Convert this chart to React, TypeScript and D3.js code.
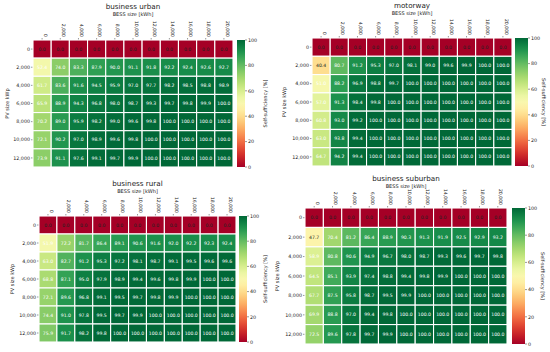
import React from 'react';
import * as d3 from 'd3';

// PV sizes (rows) and BESS sizes (columns)
const pvSizes = [0, 2000, 4000, 6000, 8000, 10000, 12000];
const bessSizes = [0, 2000, 4000, 6000, 8000, 10000, 12000, 14000, 16000, 18000, 20000];
const cbarTicks = [0, 20, 40, 60, 80, 100];

const urban = [
  [0, 0, 0, 0, 0, 0, 0, 0, 0, 0, 0],
  [52.4, 74.0, 83.3, 87.9, 90.0, 91.1, 91.8, 92.2, 92.4, 92.6, 92.7],
  [61.7, 83.6, 91.6, 94.5, 95.9, 97.0, 97.7, 98.2, 98.5, 98.8, 98.9],
  [65.9, 88.9, 94.3, 96.8, 98.0, 98.7, 99.3, 99.7, 99.8, 99.9, 100.0],
  [70.2, 89.0, 95.9, 98.2, 99.0, 99.6, 99.8, 100.0, 100.0, 100.0, 100.0],
  [72.1, 90.2, 97.0, 98.9, 99.6, 99.8, 100.0, 100.0, 100.0, 100.0, 100.0],
  [73.9, 91.1, 97.6, 99.1, 99.7, 99.9, 100.0, 100.0, 100.0, 100.0, 100.0],
];

const motorway = [
  [0, 0, 0, 0, 0, 0, 0, 0, 0, 0, 0],
  [40.4, 80.7, 91.2, 95.3, 97.0, 98.1, 99.0, 99.6, 99.9, 100.0, 100.0],
  [51.0, 88.2, 96.9, 98.8, 99.7, 100.0, 100.0, 100.0, 100.0, 100.0, 100.0],
  [57.0, 91.3, 98.4, 99.8, 100.0, 100.0, 100.0, 100.0, 100.0, 100.0, 100.0],
  [60.8, 93.0, 99.2, 100.0, 100.0, 100.0, 100.0, 100.0, 100.0, 100.0, 100.0],
  [63.0, 93.8, 99.4, 100.0, 100.0, 100.0, 100.0, 100.0, 100.0, 100.0, 100.0],
  [64.7, 94.2, 99.4, 100.0, 100.0, 100.0, 100.0, 100.0, 100.0, 100.0, 100.0],
];

const rural = [
  [0, 0, 0, 0, 0, 0, 0, 0, 0, 0, 0],
  [51.9, 72.2, 81.7, 86.4, 89.1, 90.6, 91.6, 92.0, 92.2, 92.3, 92.4],
  [63.0, 82.7, 91.2, 95.3, 97.2, 98.1, 98.7, 99.1, 99.5, 99.6, 99.6],
  [68.8, 87.1, 95.0, 97.9, 98.9, 99.4, 99.6, 99.8, 99.9, 100.0, 100.0],
  [72.1, 89.6, 96.8, 99.1, 99.5, 99.7, 99.8, 99.9, 100.0, 100.0, 100.0],
  [74.4, 91.0, 97.8, 99.5, 99.7, 99.9, 100.0, 100.0, 100.0, 100.0, 100.0],
  [75.9, 91.7, 98.2, 99.8, 100.0, 100.0, 100.0, 100.0, 100.0, 100.0, 100.0],
];

const suburban = [
  [0, 0, 0, 0, 0, 0, 0, 0, 0, 0, 0],
  [47.7, 70.4, 81.2, 86.4, 88.9, 90.3, 91.3, 91.9, 92.5, 92.9, 93.2],
  [58.9, 80.8, 90.6, 94.9, 96.7, 98.0, 98.7, 99.3, 99.6, 99.7, 99.8],
  [64.5, 85.1, 93.9, 97.4, 98.8, 99.4, 99.8, 99.9, 100.0, 100.0, 100.0],
  [67.7, 87.5, 95.8, 98.7, 99.5, 99.9, 100.0, 100.0, 100.0, 100.0, 100.0],
  [69.9, 88.8, 97.0, 99.4, 99.8, 100.0, 100.0, 100.0, 100.0, 100.0, 100.0],
  [72.5, 89.6, 97.8, 99.7, 99.9, 100.0, 100.0, 100.0, 100.0, 100.0, 100.0],
];

const color = d3.scaleSequential(d3.interpolateRdYlGn).domain([0, 100]);
const fmt = d3.format('.1f');
const tickFmt = d3.format(',');
const FONT = 'DejaVu Sans, sans-serif';

type Box = {
  x0: number; x1: number; y0: number; y1: number;
  cb0: number; cb1: number; cbLabelX: number; cbRot: number;
  ylabelX: number; titleY: number;
};

const Heatmap = ({ id, title, data, b }: { id: string; title: string; data: number[][]; b: Box }) => {
  const x = d3.scaleBand<number>().domain(bessSizes).range([b.x0, b.x1]);
  const y = d3.scaleBand<number>().domain(pvSizes).range([b.y0, b.y1]);
  const cy = d3.scaleLinear().domain([0, 100]).range([b.y1, b.y0]);
  const cx = (b.x0 + b.x1) / 2;
  const stops = d3.range(0, 1.0001, 0.05);
  return (
    <g fontFamily={FONT}>
      <defs>
        <linearGradient id={id} x1="0" y1="1" x2="0" y2="0">
          {stops.map(t => <stop key={t} offset={t} stopColor={color(t * 100)} />)}
        </linearGradient>
      </defs>
      <text x={cx} y={b.titleY} fontSize={7.2} textAnchor="middle" fill="#222">{title}</text>
      <text x={cx} y={b.titleY + 6.5} fontSize={5} textAnchor="middle" fill="#222">BESS size [kWh]</text>
      {bessSizes.map(v => {
        const tx = (x(v) ?? 0) + x.bandwidth() / 2;
        return (
          <g key={v}>
            <line x1={tx} x2={tx} y1={b.y0} y2={b.y0 - 2} stroke="#333" strokeWidth={0.5} />
            <text transform={`translate(${tx + 1.6},${b.y0 - 3}) rotate(90)`} fontSize={4.6} textAnchor="end" fill="#222">{tickFmt(v)}</text>
          </g>
        );
      })}
      {pvSizes.map(v => {
        const ty = (y(v) ?? 0) + y.bandwidth() / 2;
        return (
          <g key={v}>
            <line x1={b.x0} x2={b.x0 - 2} y1={ty} y2={ty} stroke="#333" strokeWidth={0.5} />
            <text x={b.x0 - 3} y={ty + 1.7} fontSize={4.8} textAnchor="end" fill="#222">{tickFmt(v)}</text>
          </g>
        );
      })}
      <text transform={`translate(${b.ylabelX},${(b.y0 + b.y1) / 2}) rotate(-90)`} fontSize={5} textAnchor="middle" fill="#222">PV size kWp</text>
      {data.map((row, i) => row.map((v, j) => {
        const rx = x(bessSizes[j]) ?? 0;
        const ry = y(pvSizes[i]) ?? 0;
        return (
          <g key={`${i}-${j}`}>
            <rect x={rx} y={ry} width={x.bandwidth()} height={y.bandwidth()} fill={color(v)} stroke="#fff" strokeWidth={1.1} />
            <text x={rx + x.bandwidth() / 2} y={ry + y.bandwidth() / 2 + 1.6} fontSize={4.6} textAnchor="middle" fill={v < 50 ? '#222' : '#fff'}>{fmt(v)}</text>
          </g>
        );
      }))}
      <rect x={b.cb0} y={b.y0} width={b.cb1 - b.cb0} height={b.y1 - b.y0} fill={`url(#${id})`} />
      {cbarTicks.map(t => (
        <g key={t}>
          <line x1={b.cb1} x2={b.cb1 + 2} y1={cy(t)} y2={cy(t)} stroke="#333" strokeWidth={0.5} />
          <text x={b.cb1 + 3} y={cy(t) + 1.7} fontSize={4.8} fill="#222">{t}</text>
        </g>
      ))}
      <text transform={`translate(${b.cbLabelX},${(b.y0 + b.y1) / 2}) rotate(${b.cbRot})`} fontSize={5} textAnchor="middle" fill="#222">Self-sufficiency [%]</text>
    </g>
  );
};

const App = () => (
  <svg width={550} height={352} style={{ position: 'absolute', left: 0, top: 0, background: '#fff' }}>
    <Heatmap id="g1" title="business urban" data={urban}
      b={{ x0: 33, x1: 233, y0: 40, y1: 167, cb0: 237, cb1: 245, cbLabelX: 267, cbRot: -90, ylabelX: 9, titleY: 9 }} />
    <Heatmap id="g2" title="motorway" data={motorway}
      b={{ x0: 312, x1: 512, y0: 38, y1: 166, cb0: 515, cb1: 528, cbLabelX: 542, cbRot: 90, ylabelX: 286, titleY: 8 }} />
    <Heatmap id="g3" title="business rural" data={rural}
      b={{ x0: 39, x1: 236, y0: 216, y1: 342, cb0: 239, cb1: 247, cbLabelX: 267, cbRot: -90, ylabelX: 14, titleY: 186 }} />
    <Heatmap id="g4" title="business suburban" data={suburban}
      b={{ x0: 305, x1: 507, y0: 208, y1: 344, cb0: 512, cb1: 525, cbLabelX: 541, cbRot: 90, ylabelX: 279, titleY: 181 }} />
  </svg>
);

export default App;
